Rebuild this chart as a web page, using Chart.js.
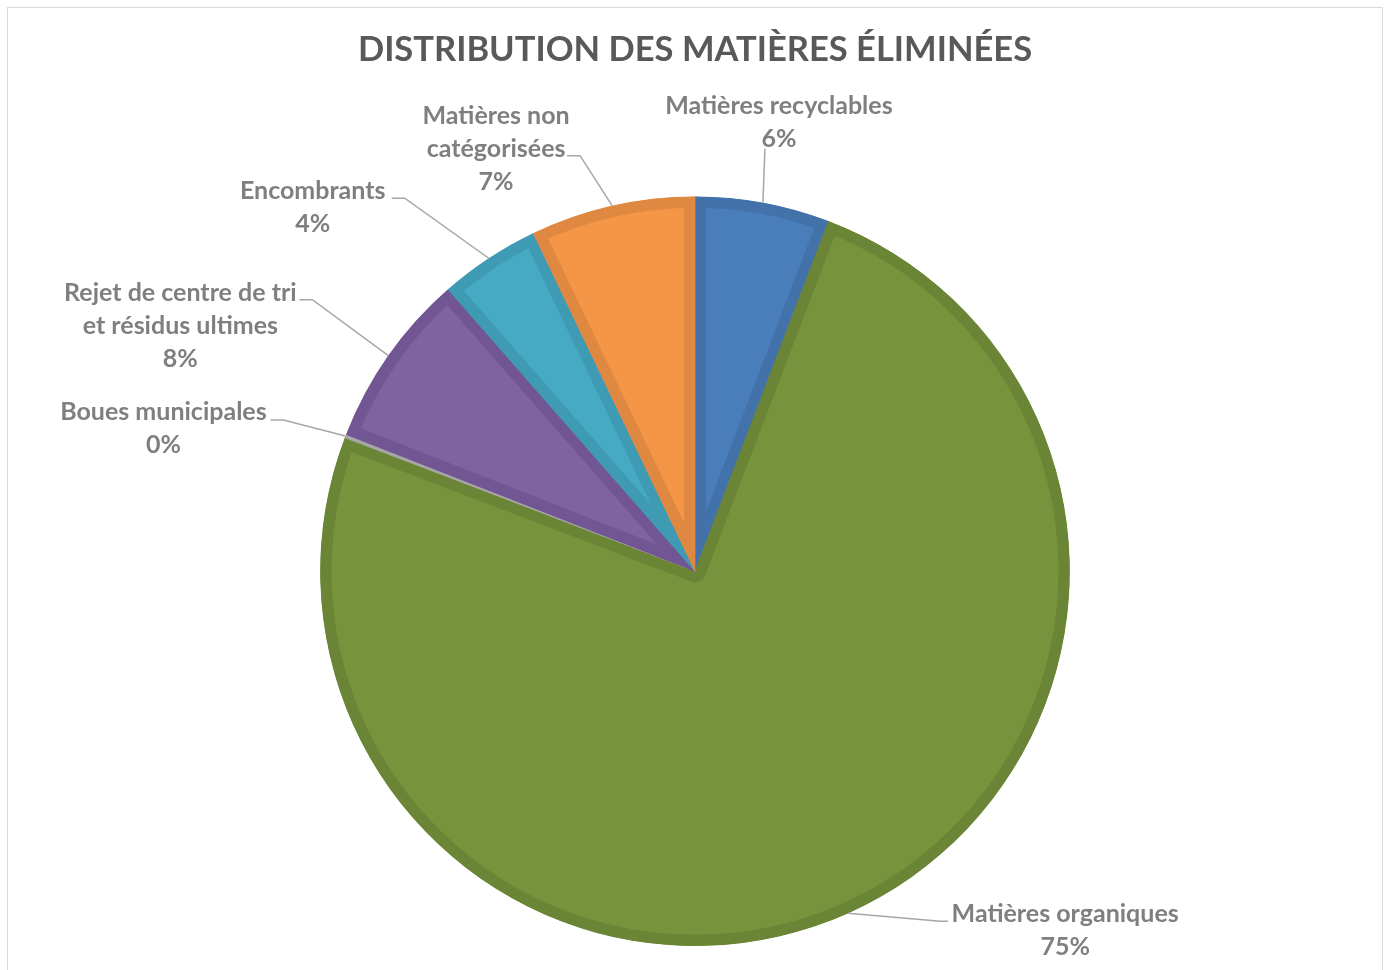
<!DOCTYPE html>
<html>
<head>
<meta charset="utf-8">
<script src="https://cdn.jsdelivr.net/npm/chart.js@4"></script>
<style>
  html, body { margin: 0; padding: 0; background: #fff; }
  #wrap { width: 1384px; height: 970px; }
</style>
</head>
<body>
<div id="wrap"><canvas id="pieChart" width="1384" height="970"></canvas></div>
<script>
    const categories = [
      'Matières recyclables',
      'Matières organiques',
      'Boues municipales',
      'Rejet de centre de tri et résidus ultimes',
      'Encombrants',
      'Matières non catégorisées'
    ];
    // how Excel wrapped each label
    const labelLines = [
      ['Matières recyclables'],
      ['Matières organiques'],
      ['Boues municipales'],
      ['Rejet de centre de tri', 'et résidus ultimes'],
      ['Encombrants'],
      ['Matières non', 'catégorisées']
    ];
    const shares = [5.8, 75.0, 0.15, 7.6, 4.35, 7.1];

    const fillColors = ['#4a7ebb', '#77933c', '#bfbfbf', '#7f63a1', '#47aac5', '#f59647'];
    const edgeColors = ['#4372aa', '#6a8535', '#a6a6a6', '#725593', '#3f9bb3', '#df8841'];

    // label block offsets from the slice's outer mid point (tx,ty), elbow (ex,ey), tick length
    const labelPlacement = [
      { tx: 16, ty: -80, ex: 2, ey: -54, tick: 0 },
      { tx: 217, ty: 17, ex: 92, ey: 8, tick: 8 },
      { tx: -182, ty: -8, ex: -62, ey: -16, tick: -13 },
      { tx: -208, ty: -30, ex: -76, ey: -56, tick: -13 },
      { tx: -176, ty: -51, ex: -84, ey: -60, tick: -13 },
      { tx: -116, ty: -57, ex: -32, ey: -50, tick: -13 }
    ];

    const frame = {
      id: 'frame',
      beforeDraw(c) {
        const ctx = c.ctx;
        ctx.save();
        ctx.fillStyle = '#fff';
        ctx.fillRect(0, 0, c.width, c.height);
        ctx.strokeStyle = '#d9d9d9';
        ctx.lineWidth = 1;
        ctx.strokeRect(7.5, 7.5, 1375, 1000);
        ctx.restore();
      }
    };

    const outLabels = {
      id: 'outLabels',
      afterDatasetsDraw(c) {
        const ctx = c.ctx;
        const meta = c.getDatasetMeta(0);
        const total = shares.reduce((s, v) => s + v, 0);
        ctx.save();
        ctx.font = 'bold 25px Lato';
        ctx.textAlign = 'center';
        ctx.textBaseline = 'middle';
        meta.data.forEach((arc, i) => {
          const p = arc.getProps(['x', 'y', 'startAngle', 'endAngle', 'outerRadius'], true);
          const mid = (p.startAngle + p.endAngle) / 2;
          const px = p.x + Math.cos(mid) * p.outerRadius;
          const py = p.y + Math.sin(mid) * p.outerRadius;
          const pl = labelPlacement[i];

          ctx.strokeStyle = '#a6a6a6';
          ctx.lineWidth = 1.5;
          ctx.beginPath();
          ctx.moveTo(px, py);
          ctx.lineTo(px + pl.ex, py + pl.ey);
          if (pl.tick) ctx.lineTo(px + pl.ex + pl.tick, py + pl.ey);
          ctx.stroke();

          const lines = labelLines[i].concat([Math.round(shares[i] / total * 100) + '%']);
          const lh = 33;
          const top = py + pl.ty - (lines.length - 1) * lh / 2;
          ctx.fillStyle = '#7f7f7f';
          lines.forEach((t, k) => ctx.fillText(t, px + pl.tx, top + k * lh));
        });
        ctx.restore();
      }
    };

    const ctx = document.getElementById('pieChart').getContext('2d');
    const chart = new Chart(ctx, {
      type: 'pie',
      data: {
        labels: categories,
        datasets: [{
          data: shares,
          backgroundColor: fillColors,
          borderColor: edgeColors,
          borderWidth: 11,
          borderAlign: 'inner',
          hoverOffset: 0
        }]
      },
      options: {
        responsive: false,
        animation: false,
        layout: { padding: { left: 6, right: 0, top: 0, bottom: 24 } },
        plugins: {
          legend: { display: false },
          tooltip: { enabled: false },
          title: {
            display: true,
            text: 'DISTRIBUTION DES MATIÈRES ÉLIMINÉES',
            color: '#595959',
            font: { family: 'Lato', size: 34.5, weight: 'bold', lineHeight: 1.2 },
            padding: { top: 29, bottom: 126 }
          }
        }
      },
      plugins: [frame, outLabels]
    });
</script>
</body>
</html>
